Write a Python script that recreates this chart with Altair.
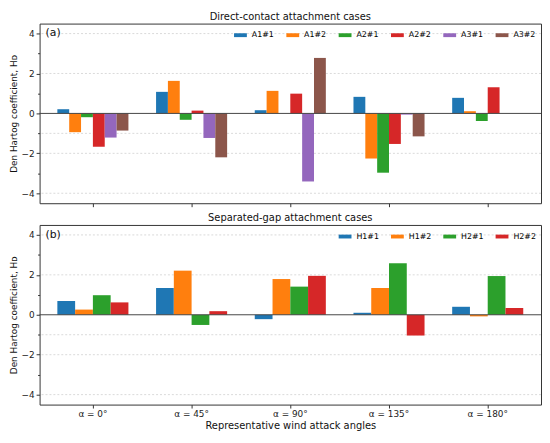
import altair as alt
import pandas as pd

angles = ["α = 0°", "α = 45°", "α = 90°", "α = 135°", "α = 180°"]

a_names = ["A1#1", "A1#2", "A2#1", "A2#2", "A3#1", "A3#2"]
A1_1 = [0.21, 1.08, 0.16, 0.83, 0.78]
A1_2 = [-0.94, 1.63, 1.13, -2.26, 0.11]
A2_1 = [-0.19, -0.32, 0.0, -2.97, -0.38]
A2_2 = [-1.67, 0.14, 0.99, -1.53, 1.31]
A3_1 = [-1.21, -1.23, -3.41, -0.06, None]
A3_2 = [-0.86, -2.20, 2.78, -1.15, None]

h_names = ["H1#1", "H1#2", "H2#1", "H2#2"]
H1_1 = [0.69, 1.34, -0.22, 0.10, 0.40]
H1_2 = [0.26, 2.21, 1.79, 1.34, -0.08]
H2_1 = [0.98, -0.51, 1.41, 2.58, 1.94]
H2_2 = [0.62, 0.18, 1.95, -1.04, 0.34]

tab10 = ["#1f77b4", "#ff7f0e", "#2ca02c", "#d62728", "#9467bd", "#8c564b"]
y_ticks = [-4, -3, -2, -1, 0, 1, 2, 3, 4]
grid_vals = [-4, -2, -1, 2, 4]

FONT = "DejaVu Sans"
W, H = 508, 182


def panel(names, series, title, tag, show_x):
    rows = []
    for n, vals in zip(names, series):
        for a, v in zip(angles, vals):
            if v is not None:
                rows.append({"angle": a, "series": n, "value": v})
    df = pd.DataFrame(rows)

    y_axis = alt.Axis(
        values=y_ticks,
        labelExpr="datum.value % 2 == 0 ? replace(format(datum.value, 'd'), '-', '\u2212') : ''",
        tickSize={"condition": {"test": "datum.value % 2 != 0", "value": 2}, "value": 3.5},
        grid=False,
        title="Den Hartog coefficient, H\u1d05",
        titleFontSize=9,
        titleFontWeight="normal",
        titlePadding=3,
        labelFontSize=9,
        labelPadding=2,
    )
    y_scale = alt.Scale(domain=[-4.5, 4.5], nice=False, zero=False)

    if show_x:
        x_axis = alt.Axis(labelAngle=0, labelFontSize=9, labelPadding=2,
                          title="Representative wind attack angles",
                          titleFontSize=10, titleFontWeight="normal", titlePadding=2,
                          tickSize=3.5)
    else:
        x_axis = alt.Axis(labels=False, title=None, tickSize=3.5)

    grid = alt.Chart(pd.DataFrame({"g": grid_vals})).mark_rule(
        color="#d0d0d0", strokeDash=[2, 2], strokeWidth=0.8
    ).encode(y=alt.Y("g:Q", scale=y_scale, axis=y_axis))

    bars = alt.Chart(df).mark_bar().encode(
        x=alt.X("angle:N", sort=angles,
                scale=alt.Scale(domain=angles, paddingInner=0.28, paddingOuter=0.18),
                axis=x_axis),
        xOffset=alt.XOffset("series:N", sort=names,
                            scale=alt.Scale(domain=names, paddingInner=0, paddingOuter=0)),
        y=alt.Y("value:Q", scale=y_scale, axis=y_axis),
        color=alt.Color("series:N", sort=names,
                        scale=alt.Scale(domain=names, range=tab10[:len(names)]),
                        legend=alt.Legend(orient="top-right", direction="horizontal",
                                          title=None, labelFontSize=8, labelFont=FONT,
                                          symbolType="M-1,-0.3L1,-0.3L1,0.3L-1,0.3Z",
                                          symbolSize=169, symbolStrokeWidth=0,
                                          columnPadding=12, labelOffset=5,
                                          offset=5, padding=0)),
    )

    zero = alt.Chart(pd.DataFrame({"z": [0]})).mark_rule(
        color="#444444", strokeWidth=1
    ).encode(y=alt.Y("z:Q", scale=y_scale, axis=y_axis))

    lab = alt.Chart(pd.DataFrame({"t": [tag]})).mark_text(
        align="left", baseline="middle", fontSize=11, font=FONT, color="#111"
    ).encode(x=alt.value(6), y=alt.value(10), text="t:N")

    return alt.layer(grid, bars, zero, lab).properties(
        width=W, height=H,
        title=alt.TitleParams(title, fontSize=10, fontWeight="normal", font=FONT,
                              offset=2, color="#111"),
    )


top = panel(a_names, [A1_1, A1_2, A2_1, A2_2, A3_1, A3_2],
            "Direct-contact attachment cases", "(a)", False)
bottom = panel(h_names, [H1_1, H1_2, H2_1, H2_2],
               "Separated-gap attachment cases", "(b)", True)

chart = alt.vconcat(top, bottom, spacing=4).resolve_scale(
    color="independent", x="independent", y="independent", xOffset="independent"
).resolve_legend(color="independent").properties(padding=0).configure(
    font=FONT
).configure_view(
    stroke="#333333", strokeWidth=1
).configure_axis(
    domain=False, tickColor="#333333", labelColor="#222222", titleColor="#111111",
    labelFont=FONT, titleFont=FONT
)

chart.save("out.html", embed_options={"renderer": "svg", "actions": False})
